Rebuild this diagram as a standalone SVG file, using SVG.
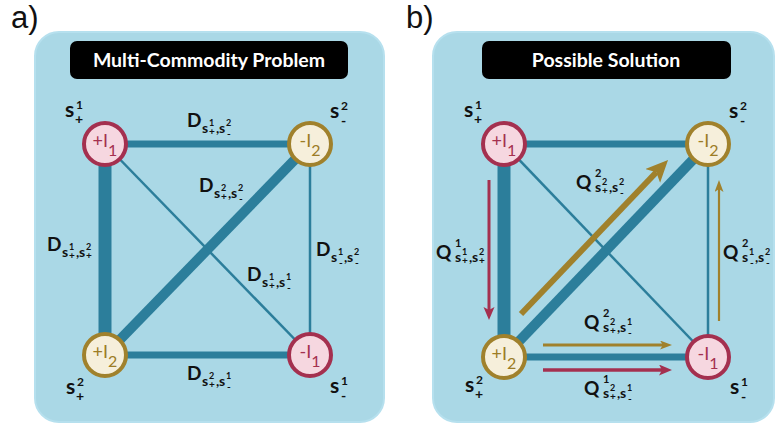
<svg xmlns="http://www.w3.org/2000/svg" width="776" height="428" viewBox="0 0 776 428">
<style>
text{font-family:Lato,"Open Sans","Liberation Sans",sans-serif}
.panel{fill:#aad8e6;stroke:#b6e0ee;stroke-width:2}
.title{fill:#000}
.tt{fill:#fff;font-weight:700;font-size:19.5px;text-anchor:middle}
.pl{fill:#111;font-size:31px;font-family:"Liberation Sans",Arial,sans-serif}
.e{stroke:#2c7e9b;fill:none}
.nr circle{fill:#f6d7e0;stroke:#a4304f;stroke-width:4}
.ng circle{fill:#f6efdb;stroke:#a0812c;stroke-width:4}
.nr text{fill:#a4304f}
.ng text{fill:#9c7c26}
.nl{font-size:18px;text-anchor:middle}
.nl tspan{font-size:16px}
.lab{fill:#111;font-weight:700}
.big{font-size:19px}
.ss{font-size:14px}
.sp{font-size:9px}
.sb{font-size:10px}
.sq{font-size:11px}
.S{font-size:21px}
.Sp{font-size:12px}
.Sb{font-size:14px}
.ar{stroke:#a4304f;fill:none}
.ag{stroke:#a0812c;fill:none}
</style>
<defs>
<marker id="mR" markerUnits="userSpaceOnUse" markerWidth="14" markerHeight="12" refX="3" refY="5.5" orient="auto"><path d="M0,0 L13,5.5 L0,11 L3,5.5Z" fill="#a4304f"/></marker>
<marker id="mG" markerUnits="userSpaceOnUse" markerWidth="13" markerHeight="10" refX="3" refY="4.5" orient="auto"><path d="M0,0 L12,4.5 L0,9 L3,4.5Z" fill="#a0812c"/></marker>
<marker id="mGL" markerUnits="userSpaceOnUse" markerWidth="24" markerHeight="22" refX="5" refY="10" orient="auto"><path d="M0,0 L22,10 L0,20 L5,10Z" fill="#a0812c"/></marker>
</defs>

<text class="pl" x="11" y="28">a)</text>
<text class="pl" x="406" y="28">b)</text>

<rect class="panel" x="35" y="32" width="349" height="390" rx="24"/>
<rect class="panel" x="433" y="32" width="341" height="390" rx="24"/>

<g id="title-a"><rect class="title" x="70" y="41" width="278" height="38" rx="7"/><text class="tt" x="209" y="67">Multi-Commodity Problem</text></g>
<g id="title-b"><rect class="title" x="482" y="41" width="249" height="38" rx="7"/><text class="tt" x="606" y="67">Possible Solution</text></g>

<g id="connectors">
<line class="e" x1="105" y1="144" x2="310" y2="144" stroke-width="7"/>
<line class="e" x1="105" y1="144" x2="105" y2="355" stroke-width="13"/>
<line class="e" x1="105" y1="355" x2="310" y2="144" stroke-width="10"/>
<line class="e" x1="105" y1="144" x2="310" y2="355" stroke-width="2.5"/>
<line class="e" x1="310" y1="144" x2="310" y2="355" stroke-width="2.5"/>
<line class="e" x1="105" y1="355" x2="310" y2="355" stroke-width="7"/>
<line class="e" x1="504" y1="144" x2="708" y2="144" stroke-width="7"/>
<line class="e" x1="504" y1="144" x2="504" y2="357" stroke-width="13"/>
<line class="e" x1="504" y1="357" x2="708" y2="144" stroke-width="10"/>
<line class="e" x1="504" y1="144" x2="708" y2="357" stroke-width="2.5"/>
<line class="e" x1="708" y1="144" x2="708" y2="357" stroke-width="2.5"/>
<line class="e" x1="504" y1="357" x2="708" y2="357" stroke-width="7"/>
<line class="ar" x1="489" y1="180" x2="489" y2="310" stroke-width="3" marker-end="url(#mR)"/>
<line class="ag" x1="521" y1="314" x2="656.3" y2="172.3" stroke-width="6" marker-end="url(#mGL)"/>
<line class="ag" x1="719" y1="321" x2="719" y2="189" stroke-width="2.2" marker-end="url(#mG)"/>
<line class="ag" x1="543" y1="345" x2="663" y2="345" stroke-width="3" marker-end="url(#mG)"/>
<line class="ar" x1="543" y1="370" x2="662" y2="370" stroke-width="3.5" marker-end="url(#mR)"/>
</g>

<g id="a-plusI1" class="nr"><circle cx="105" cy="144" r="21"/><text class="nl" x="105" y="147">+I<tspan dy="9">1</tspan></text></g>
<g id="a-minusI2" class="ng"><circle cx="310" cy="144" r="21"/><text class="nl" x="310" y="147">-I<tspan dy="9">2</tspan></text></g>
<g id="a-plusI2" class="ng"><circle cx="105" cy="355" r="21"/><text class="nl" x="105" y="358">+I<tspan dy="9">2</tspan></text></g>
<g id="a-minusI1" class="nr"><circle cx="310" cy="355" r="21"/><text class="nl" x="310" y="358">-I<tspan dy="9">1</tspan></text></g>

<g id="b-plusI1" class="nr"><circle cx="504" cy="144" r="21"/><text class="nl" x="504" y="147">+I<tspan dy="9">1</tspan></text></g>
<g id="b-minusI2" class="ng"><circle cx="708" cy="144" r="21"/><text class="nl" x="708" y="147">-I<tspan dy="9">2</tspan></text></g>
<g id="b-plusI2" class="ng"><circle cx="504" cy="357" r="21"/><text class="nl" x="504" y="360">+I<tspan dy="9">2</tspan></text></g>
<g id="b-minusI1" class="nr"><circle cx="708" cy="357" r="21"/><text class="nl" x="708" y="360">-I<tspan dy="9">1</tspan></text></g>

<g id="node-labels" class="lab">
<text><tspan class="S" x="65" y="117">s</tspan><tspan class="Sp" x="76" y="109">1</tspan><tspan class="Sb" x="75" y="124">+</tspan></text>
<text><tspan class="S" x="330" y="118">s</tspan><tspan class="Sp" x="341" y="110">2</tspan><tspan class="Sb" x="341" y="126">-</tspan></text>
<text><tspan class="S" x="66" y="394">s</tspan><tspan class="Sp" x="77" y="386">2</tspan><tspan class="Sb" x="76" y="401">+</tspan></text>
<text><tspan class="S" x="330" y="393">s</tspan><tspan class="Sp" x="341" y="385">1</tspan><tspan class="Sb" x="341" y="401">-</tspan></text>
<text><tspan class="S" x="464" y="117">s</tspan><tspan class="Sp" x="475" y="109">1</tspan><tspan class="Sb" x="474" y="124">+</tspan></text>
<text><tspan class="S" x="729" y="118">s</tspan><tspan class="Sp" x="740" y="110">2</tspan><tspan class="Sb" x="740" y="126">-</tspan></text>
<text><tspan class="S" x="465" y="392">s</tspan><tspan class="Sp" x="476" y="384">2</tspan><tspan class="Sb" x="475" y="399">+</tspan></text>
<text><tspan class="S" x="730" y="394">s</tspan><tspan class="Sp" x="741" y="386">1</tspan><tspan class="Sb" x="741" y="402">-</tspan></text>
</g>

<g id="edge-labels" class="lab">
<text><tspan class="big" x="187" y="127">D</tspan><tspan class="ss" x="202" y="133">s</tspan><tspan class="sp" x="209" y="126">1</tspan><tspan class="sb" x="209" y="135">+</tspan><tspan class="ss" x="216" y="133">,</tspan><tspan class="ss" x="219" y="133">s</tspan><tspan class="sp" x="226" y="126">2</tspan><tspan class="sb" x="227" y="137">-</tspan></text>
<text><tspan class="big" x="199" y="192">D</tspan><tspan class="ss" x="214" y="198">s</tspan><tspan class="sp" x="221" y="191">2</tspan><tspan class="sb" x="221" y="200">+</tspan><tspan class="ss" x="228" y="198">,</tspan><tspan class="ss" x="231" y="198">s</tspan><tspan class="sp" x="238" y="191">2</tspan><tspan class="sb" x="239" y="202">-</tspan></text>
<text><tspan class="big" x="47" y="251">D</tspan><tspan class="ss" x="62" y="257">s</tspan><tspan class="sp" x="69" y="250">1</tspan><tspan class="sb" x="69" y="259">+</tspan><tspan class="ss" x="76" y="257">,</tspan><tspan class="ss" x="79" y="257">s</tspan><tspan class="sp" x="86" y="250">2</tspan><tspan class="sb" x="86" y="259">+</tspan></text>
<text><tspan class="big" x="316" y="256">D</tspan><tspan class="ss" x="331" y="262">s</tspan><tspan class="sp" x="338" y="255">1</tspan><tspan class="sb" x="339" y="266">-</tspan><tspan class="ss" x="344" y="262">,</tspan><tspan class="ss" x="347" y="262">s</tspan><tspan class="sp" x="354" y="255">2</tspan><tspan class="sb" x="355" y="266">-</tspan></text>
<text><tspan class="big" x="247" y="281">D</tspan><tspan class="ss" x="262" y="287">s</tspan><tspan class="sp" x="269" y="280">1</tspan><tspan class="sb" x="269" y="289">+</tspan><tspan class="ss" x="276" y="287">,</tspan><tspan class="ss" x="279" y="287">s</tspan><tspan class="sp" x="286" y="280">1</tspan><tspan class="sb" x="287" y="291">-</tspan></text>
<text><tspan class="big" x="187" y="380">D</tspan><tspan class="ss" x="202" y="386">s</tspan><tspan class="sp" x="209" y="379">2</tspan><tspan class="sb" x="209" y="388">+</tspan><tspan class="ss" x="216" y="386">,</tspan><tspan class="ss" x="219" y="386">s</tspan><tspan class="sp" x="226" y="379">1</tspan><tspan class="sb" x="227" y="390">-</tspan></text>

<text><tspan class="big" x="576" y="189">Q</tspan><tspan class="sq" x="595" y="177">2</tspan><tspan class="ss" x="595" y="192">s</tspan><tspan class="sp" x="602" y="185">2</tspan><tspan class="sb" x="602" y="194">+</tspan><tspan class="ss" x="609" y="192">,</tspan><tspan class="ss" x="612" y="192">s</tspan><tspan class="sp" x="619" y="185">2</tspan><tspan class="sb" x="620" y="196">-</tspan></text>
<text><tspan class="big" x="436" y="259">Q</tspan><tspan class="sq" x="455" y="247">1</tspan><tspan class="ss" x="455" y="262">s</tspan><tspan class="sp" x="462" y="255">1</tspan><tspan class="sb" x="462" y="264">+</tspan><tspan class="ss" x="469" y="262">,</tspan><tspan class="ss" x="472" y="262">s</tspan><tspan class="sp" x="479" y="255">2</tspan><tspan class="sb" x="479" y="264">+</tspan></text>
<text><tspan class="big" x="723" y="259">Q</tspan><tspan class="sq" x="742" y="247">2</tspan><tspan class="ss" x="742" y="262">s</tspan><tspan class="sp" x="749" y="255">1</tspan><tspan class="sb" x="750" y="266">-</tspan><tspan class="ss" x="755" y="262">,</tspan><tspan class="ss" x="758" y="262">s</tspan><tspan class="sp" x="765" y="255">2</tspan><tspan class="sb" x="766" y="266">-</tspan></text>
<text><tspan class="big" x="584" y="329">Q</tspan><tspan class="sq" x="603" y="317">2</tspan><tspan class="ss" x="603" y="332">s</tspan><tspan class="sp" x="610" y="325">2</tspan><tspan class="sb" x="610" y="334">+</tspan><tspan class="ss" x="617" y="332">,</tspan><tspan class="ss" x="620" y="332">s</tspan><tspan class="sp" x="627" y="325">1</tspan><tspan class="sb" x="628" y="336">-</tspan></text>
<text><tspan class="big" x="584" y="395">Q</tspan><tspan class="sq" x="603" y="383">1</tspan><tspan class="ss" x="603" y="398">s</tspan><tspan class="sp" x="610" y="391">2</tspan><tspan class="sb" x="610" y="400">+</tspan><tspan class="ss" x="617" y="398">,</tspan><tspan class="ss" x="620" y="398">s</tspan><tspan class="sp" x="627" y="391">1</tspan><tspan class="sb" x="628" y="402">-</tspan></text>
</g>
</svg>
